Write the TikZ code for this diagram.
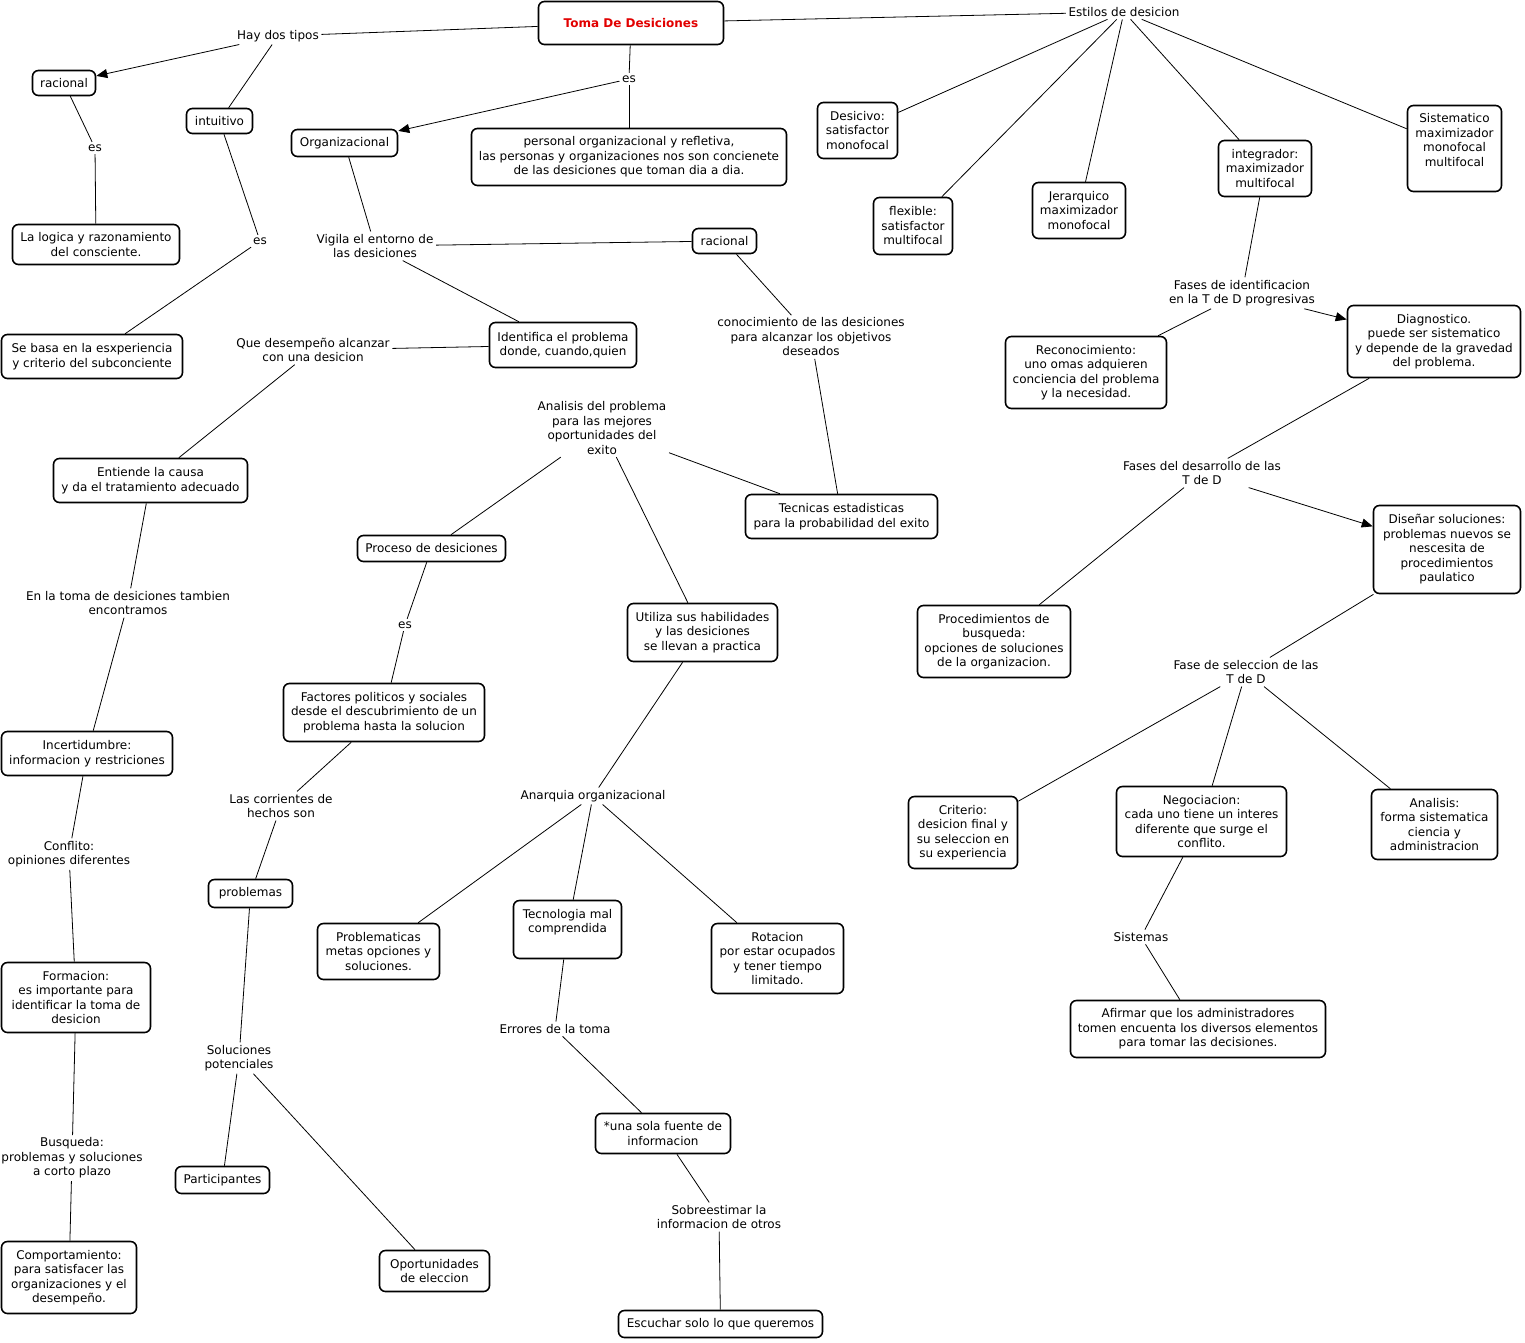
\documentclass[tikz,border=0pt]{standalone}
\usepackage{fontspec}
\setmainfont{DejaVu Sans}
\usetikzlibrary{arrows.meta}
\definecolor{titlered}{RGB}{226,0,0}
\begin{document}
\begin{tikzpicture}[x=1pt,y=-1pt,
  txt/.style={font=\fontsize{12}{14.5}\selectfont},
  cbox/.style={txt, draw, line width=1.6pt, rounded corners=6pt, fill=white, align=center, inner sep=0pt},
  sz/.style 2 args={minimum width=#1pt, minimum height=#2pt},
  lnk/.style={txt, align=center, inner sep=2.5pt},
  ctext/.style={txt, align=center, inner sep=0pt},
  con/.style={line width=0.8pt},
  arr/.style={con, -{Triangle[length=11pt,width=9pt]}}]
\useasboundingbox[fill=white] (0,0) rectangle (1525,1342);

% ---------- concepts ----------
\node[cbox, sz={185}{43}, font=\fontsize{12}{14.5}\selectfont\bfseries, text=titlered] (title) at (631,23) {Toma De Desiciones};
\node[cbox, sz={63}{25}] (rac1) at (64,83) {racional};
\node[cbox, sz={66}{25}] (intu) at (219.5,121) {intuitivo};
\node[cbox, sz={106}{27}] (org) at (344.5,143) {Organizacional};
\node[cbox, sz={315}{57}] (pers) at (629,157) {personal organizacional y refletiva,\\las personas y organizaciones nos son concienete\\de las desiciones que toman dia a dia.};
\node[cbox, sz={80}{56}] (desc) at (857.5,130.5) {Desicivo:\\satisfactor\\monofocal};
\node[cbox, sz={79}{57}] (flex) at (913,226) {flexible:\\satisfactor\\multifocal};
\node[cbox, sz={93}{56}] (jer) at (1079,210.5) {Jerarquico\\maximizador\\monofocal};
\node[cbox, sz={93}{56}] (integ) at (1265,168.5) {integrador:\\maximizador\\multifocal};
\node[cbox, sz={94}{86}] (sist) at (1454.5,148.5) {};
\node[ctext] (sistt) at (1454.5,140) {Sistematico\\maximizador\\monofocal\\multifocal};
\node[cbox, sz={167}{40}] (logica) at (96,244.5) {La logica y razonamiento\\del consciente.};
\node[cbox, sz={64}{25}] (rac2) at (724.5,241) {racional};
\node[cbox, sz={181}{44}] (sebasa) at (92,356.5) {Se basa en la esxperiencia\\y criterio del subconciente};
\node[cbox, sz={147}{45}] (ident) at (563,345) {Identifica el problema\\donde, cuando,quien};
\node[cbox, sz={161}{72}] (recon) at (1086,372.5) {Reconocimiento:\\uno omas adquieren\\conciencia del problema\\y la necesidad.};
\node[cbox, sz={173}{72}] (diag) at (1434,341.5) {Diagnostico.\\puede ser sistematico\\y depende de la gravedad\\del problema.};
\node[cbox, sz={194}{44}] (entiende) at (150.5,480.5) {Entiende la causa\\y da el tratamiento adecuado};
\node[cbox, sz={192}{44}] (tecn) at (841.5,516.5) {Tecnicas estadisticas\\para la probabilidad del exito};
\node[cbox, sz={148}{26}] (proceso) at (431.5,548.5) {Proceso de desiciones};
\node[cbox, sz={147}{88}] (disenar) at (1447,549.5) {Diseñar soluciones:\\problemas nuevos se\\nescesita de\\procedimientos\\paulatico};
\node[cbox, sz={153}{72}] (procbus) at (994,641.5) {Procedimientos de\\busqueda:\\opciones de soluciones\\de la organizacion.};
\node[cbox, sz={150}{58}] (utiliza) at (702.5,632.5) {Utiliza sus habilidades\\y las desiciones\\se llevan a practica};
\node[cbox, sz={201}{58}] (factores) at (384,712.5) {Factores politicos y sociales\\desde el descubrimiento de un\\problema hasta la solucion};
\node[cbox, sz={171}{44}] (incert) at (87,753.5) {Incertidumbre:\\informacion y restriciones};
\node[cbox, sz={109}{72}] (criterio) at (963,832.5) {Criterio:\\desicion final y\\su seleccion en\\su experiencia};
\node[cbox, sz={170}{70}] (negoc) at (1201.5,821.5) {Negociacion:\\cada uno tiene un interes\\diferente que surge el\\conflito.};
\node[cbox, sz={126}{70}] (analisis) at (1434.5,824.5) {Analisis:\\forma sistematica\\ciencia y\\administracion};
\node[cbox, sz={84}{28}] (problemas) at (250.5,893.5) {problemas};
\node[cbox, sz={122}{56}] (problemat) at (378.5,951.5) {Problematicas\\metas opciones y\\soluciones.};
\node[cbox, sz={108}{58}] (tecnol) at (567.5,929.5) {};
\node[ctext] (tecnolt) at (567.5,922) {Tecnologia mal\\comprendida};
\node[cbox, sz={132}{70}] (rotacion) at (777.5,958.5) {Rotacion\\por estar ocupados\\y tener tiempo\\limitado.};
\node[cbox, sz={149}{70}] (formacion) at (76,997.5) {Formacion:\\es importante para\\identificar la toma de\\desicion};
\node[cbox, sz={255}{57}] (afirmar) at (1198,1029) {Afirmar que los administradores\\tomen encuenta los diversos elementos\\para tomar las decisiones.};
\node[cbox, sz={135}{40}] (unasola) at (663,1133.5) {*una sola fuente de\\informacion};
\node[cbox, sz={94}{27}] (particip) at (222.5,1180) {Participantes};
\node[cbox, sz={110}{41}] (oport) at (434.5,1271) {Oportunidades\\de eleccion};
\node[cbox, sz={135}{72}] (comport) at (69,1277.5) {Comportamiento:\\para satisfacer las\\organizaciones y el\\desempeño.};
\node[cbox, sz={204}{27}] (escuchar) at (720.5,1324) {Escuchar solo lo que queremos};

% ---------- linking phrases ----------
\node[lnk] (l1) at (278,36) {Hay dos tipos};
\node[lnk] (l2) at (629,79) {es};
\node[lnk] (l3) at (1124,12) {Estilos de desicion};
\node[lnk] (l4) at (95,148) {es};
\node[lnk] (l5) at (260,241) {es};
\node[lnk] (l6) at (375,246) {Vigila el entorno de\\las desiciones};
\node[lnk] (l7) at (313,350) {Que desempeño alcanzar\\con una desicion};
\node[lnk] (l8) at (811,337) {conocimiento de las desiciones\\para alcanzar los objetivos\\deseados};
\node[lnk] (l9) at (1242,293) {Fases de identificacion\\en la T de D progresivas};
\node[lnk] (l10) at (602,428) {Analisis del problema\\para las mejores\\oportunidades del\\exito};
\node[lnk] (l11) at (1202,473) {Fases del desarrollo de las\\T de D};
\node[lnk] (l12) at (128,603) {En la toma de desiciones tambien\\encontramos};
\node[lnk] (l13) at (405,625) {es};
\node[lnk] (l14) at (1246,672) {Fase de seleccion de las\\T de D};
\node[lnk] (l15) at (281,806) {Las corrientes de\\hechos son};
\node[lnk] (l16) at (593,796) {Anarquia organizacional};
\node[lnk] (l17) at (69,854) {Conflito:\\opiniones diferentes};
\node[lnk] (l18) at (1141,937) {Sistemas};
\node[lnk] (l19) at (555,1029) {Errores de la toma};
\node[lnk] (l20) at (239,1058) {Soluciones\\potenciales};
\node[lnk] (l21) at (72,1158) {Busqueda:\\problemas y soluciones\\a corto plazo};
\node[lnk] (l22) at (719,1217) {Sobreestimar la\\informacion de otros};

% ---------- connectors ----------
\draw[con] (title) -- (l1);
\draw[arr] (l1) -- (rac1);
\draw[con] (l1) -- (intu);
\draw[con] (title) -- (l2);
\draw[arr] (l2) -- (org);
\draw[con] (l2) -- (pers);
\draw[con] (title) -- (l3);
\draw[con] (l3) -- (desc);
\draw[con] (l3) -- (flex);
\draw[con] (l3) -- (jer);
\draw[con] (l3) -- (integ);
\draw[con] (l3) -- (sist);
\draw[con] (rac1) -- (l4);
\draw[con] (l4) -- (logica);
\draw[con] (intu) -- (l5);
\draw[con] (l5) -- (sebasa);
\draw[con] (org) -- (l6);
\draw[con] (l6) -- (rac2);
\draw[con] (l6) -- (ident);
\draw[con] (rac2) -- (l8);
\draw[con] (l8) -- (tecn);
\draw[con] (ident) -- (l7);
\draw[con] (l7) -- (entiende);
\draw[con] (l10) -- (proceso);
\draw[con] (l10) -- (utiliza);
\draw[con] (l10) -- (tecn);
\draw[con] (entiende) -- (l12);
\draw[con] (l12) -- (incert);
\draw[con] (incert) -- (l17);
\draw[con] (l17) -- (formacion);
\draw[con] (formacion) -- (l21);
\draw[con] (l21) -- (comport);
\draw[con] (proceso) -- (l13);
\draw[con] (l13) -- (factores);
\draw[con] (factores) -- (l15);
\draw[con] (l15) -- (problemas);
\draw[con] (problemas) -- (l20);
\draw[con] (l20) -- (particip);
\draw[con] (l20) -- (oport);
\draw[con] (utiliza) -- (l16);
\draw[con] (l16) -- (problemat);
\draw[con] (l16) -- (tecnol);
\draw[con] (l16) -- (rotacion);
\draw[con] (tecnol) -- (l19);
\draw[con] (l19) -- (unasola);
\draw[con] (unasola) -- (l22);
\draw[con] (l22) -- (escuchar);
\draw[con] (integ) -- (l9);
\draw[con] (l9) -- (recon);
\draw[arr] (l9) -- (diag);
\draw[con] (diag) -- (l11);
\draw[con] (l11) -- (procbus);
\draw[arr] (l11) -- (disenar);
\draw[con] (disenar) -- (l14);
\draw[con] (l14) -- (criterio);
\draw[con] (l14) -- (negoc);
\draw[con] (l14) -- (analisis);
\draw[con] (negoc) -- (l18);
\draw[con] (l18) -- (afirmar);
\end{tikzpicture}
\end{document}
